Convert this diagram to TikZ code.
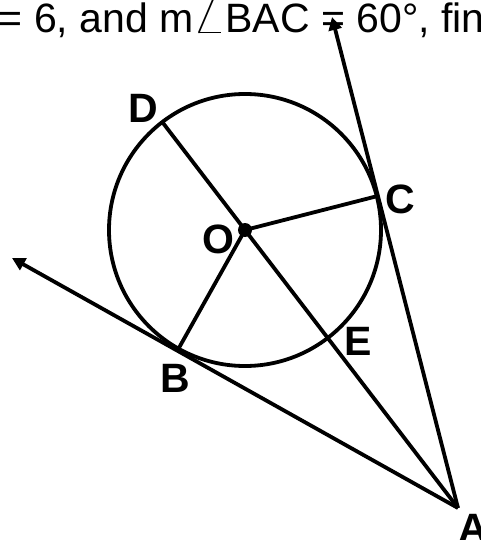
\documentclass[tikz,border=0pt]{standalone}
\usepackage{fontspec}
\usepackage{graphicx}
\setmainfont{Liberation Sans}
\usetikzlibrary{calc,arrows.meta}
\begin{document}
\begin{tikzpicture}[x=1pt,y=-1pt, line width=3.8pt,
  lbl/.style={font=\fontsize{41}{41}\selectfont\bfseries, inner sep=0pt},
  arr/.style={-{Triangle[length=13pt,width=13pt]}}]
\useasboundingbox (0,0) rectangle (481,540);
\clip (0,0) rectangle (481,540);
\node[anchor=base west, font=\fontsize{41}{41}\selectfont, inner sep=0pt] (title) at (-3,33) {= 6, and m\kern-1pt\scalebox{1.75}[2.1]{$\angle$}\kern-1ptBAC = 60°, fin};
\coordinate (O) at (245,230);
\coordinate (A) at (458,508);
\coordinate (L) at (12,258);
\coordinate (T) at (332,17);
\coordinate (B) at ($(A)!(O)!(L)$);
\coordinate (C) at ($(A)!(O)!(T)$);
\coordinate (D) at ($(O)!-136pt!(A)$);
\coordinate (E) at ($(O)!136pt!(A)$);
\draw (O) circle[radius=136pt];
\draw (D) -- (A);
\draw (O) -- (B);
\draw (O) -- (C);
\draw[arr] (A) -- (L);
\draw[arr] (A) -- (T);
\fill (O) circle[radius=7pt];
\node[lbl] (lD) at (143.5,108) {D};
\node[lbl] (lC) at (400,199) {C};
\node[lbl] (lO) at (218,239.5) {O};
\node[lbl] (lB) at (175,378) {B};
\node[lbl] (lE) at (358.5,341) {E};
\node[lbl] (lA) at (473,528.5) {A};
\end{tikzpicture}
\end{document}
